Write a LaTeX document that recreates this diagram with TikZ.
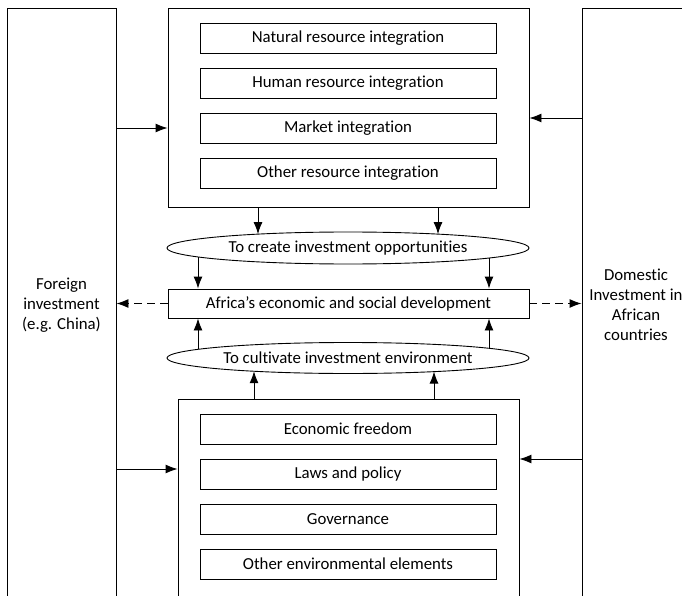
\documentclass[tikz,border=0pt]{standalone}
\usepackage{fontspec}
\setmainfont{Carlito}[RawFeature=-liga]
\usetikzlibrary{shapes.geometric,arrows.meta,calc}
\begin{document}
\begin{tikzpicture}[x=1pt,y=-1pt,
  font=\fontsize{16.8}{20}\selectfont,
  line width=0.9pt,
  box/.style={draw, rectangle, inner sep=0pt, align=center},
  inbox/.style={box, minimum width=296pt, minimum height=30pt},
  oval/.style={draw, ellipse, inner sep=0pt, minimum width=362pt, minimum height=32pt},
  arr/.style={-{Latex[length=12pt,width=9pt]}},
  darr/.style={arr, dash pattern=on 8pt off 5pt}]
\useasboundingbox (0,0) rectangle (682,596);
\clip (0,0) rectangle (682,596);

% side boxes
\node[box, minimum width=109pt, minimum height=594pt] (L) at (61.5,305) {Foreign\\investment\\(e.g. China)};
\node[box, minimum width=110pt, minimum height=594pt] (R) at (637,305) {};
\node[align=center] (Rt) at (636,305) {Domestic\\Investment in\\African\\countries};

% top box
\node[box, minimum width=361pt, minimum height=199pt] (T) at (348.5,107.5) {};
\node[inbox] (t1) at (348,38) {Natural resource integration};
\node[inbox] (t2) at (348,83) {Human resource integration};
\node[inbox] (t3) at (348,128) {Market integration};
\node[inbox] (t4) at (348,173) {Other resource integration};

% ovals and central box
\node[oval] (E1) at (348,248) {To create investment opportunities};
\node[box, minimum width=361pt, minimum height=29pt] (A) at (348.5,303.5) {Africa’s economic and social development};
\node[oval, minimum height=31pt] (E2) at (348,358) {To cultivate investment environment};

% bottom box
\node[box, minimum width=341pt, minimum height=206pt] (B) at (348.5,502) {};
\node[inbox] (b1) at (348,429) {Economic freedom};
\node[inbox] (b2) at (348,474) {Laws and policy};
\node[inbox] (b3) at (348,519) {Governance};
\node[inbox] (b4) at (348,564) {Other environmental elements};

% helper coordinates
\coordinate (yr1) at (0,118);
\coordinate (yl2) at (0,469);
\coordinate (yr2) at (0,459);
\coordinate (e1a) at (258,234.1);
\coordinate (e1b) at (438,234.1);
\coordinate (e1c) at (198,257.0);
\coordinate (e1d) at (489,258.0);
\coordinate (e2a) at (198,349.3);
\coordinate (e2b) at (489,348.3);
\coordinate (e2c) at (254,371.2);
\coordinate (e2d) at (434,371.6);

% connectors
\draw[arr] (L.east |- t3.center) -- (T.west |- t3.center);
\draw[arr] (R.west |- yr1) -- (T.east |- yr1);
\draw[arr] (T.south -| e1a) -- (e1a);
\draw[arr] (T.south -| e1b) -- (e1b);
\draw[arr] (e1c) -- (A.north -| e1c);
\draw[arr] (e1d) -- (A.north -| e1d);
\draw[arr] (e2a) -- (A.south -| e2a);
\draw[arr] (e2b) -- (A.south -| e2b);
\draw[arr] (B.north -| e2c) -- (e2c);
\draw[arr] (B.north -| e2d) -- (e2d);
\draw[darr] (A.west) -- (L.east |- A.west);
\draw[darr] (A.east) -- (R.west |- A.east);
\draw[arr] (L.east |- yl2) -- (B.west |- yl2);
\draw[arr] (R.west |- yr2) -- (B.east |- yr2);
\end{tikzpicture}
\end{document}
